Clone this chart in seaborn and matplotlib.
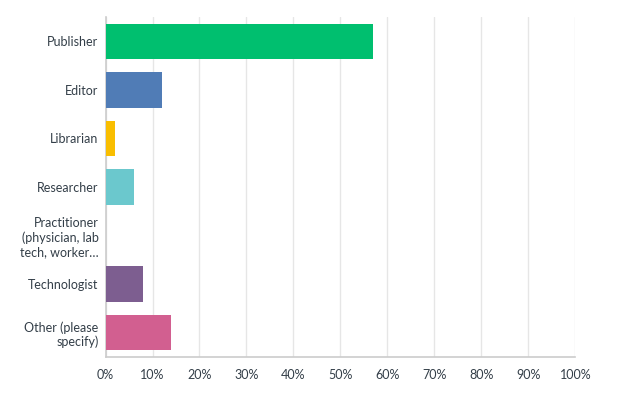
import matplotlib
matplotlib.use("Agg")
import matplotlib.pyplot as plt
import seaborn as sns
import pandas as pd

# survey answers and share of respondents (%)
categories = [
    "Publisher",
    "Editor",
    "Librarian",
    "Researcher",
    "Practitioner\n(physician, lab\ntech, worker…",
    "Technologist",
    "Other (please\nspecify)",
]
percent = [57, 12, 2, 6, 0, 8, 14]
colors = ["#00BF6F", "#507CB6", "#F9BE00", "#6BC8CD", "#EB8A3E", "#7D5E90", "#D25F90"]
x_ticks = [0, 10, 20, 30, 40, 50, 60, 70, 80, 90, 100]
x_labels = [f"{t}%" for t in x_ticks]

sns.set_style("white")
plt.rcParams["font.family"] = ["Lato", "DejaVu Sans"]

df = pd.DataFrame({"answer": categories, "pct": percent})

fig = plt.figure(figsize=(6.31, 3.97), dpi=100)
ax = fig.add_axes([0.1672, 0.1008, 0.7448, 0.8564])

sns.barplot(data=df, y="answer", x="pct", hue="answer", palette=colors,
            legend=False, width=0.73, saturation=1, linewidth=0,
            ax=ax, zorder=3)

ax.set_xlim(0, 100)
ax.set_ylim(len(categories) - 0.5, -0.5)
ax.set_xticks(x_ticks)
ax.set_xticklabels(x_labels)
ax.set_xlabel("")
ax.set_ylabel("")

ax.grid(axis="x", color="#e6e6e6", linewidth=1, zorder=0)
for s in ["top", "right"]:
    ax.spines[s].set_visible(False)
ax.spines["left"].set_color("#cccccc")
ax.spines["bottom"].set_color("#cccccc")
ax.spines["left"].set_linewidth(1.2)
ax.spines["bottom"].set_linewidth(1.2)

ax.tick_params(axis="both", length=0, labelsize=9, colors="#333e48")
ax.tick_params(axis="x", pad=9)
ax.tick_params(axis="y", pad=5)
for lab in ax.get_yticklabels():
    lab.set_horizontalalignment("right")
    lab.set_multialignment("right")

fig.savefig("out.png", dpi=100, facecolor="white")
